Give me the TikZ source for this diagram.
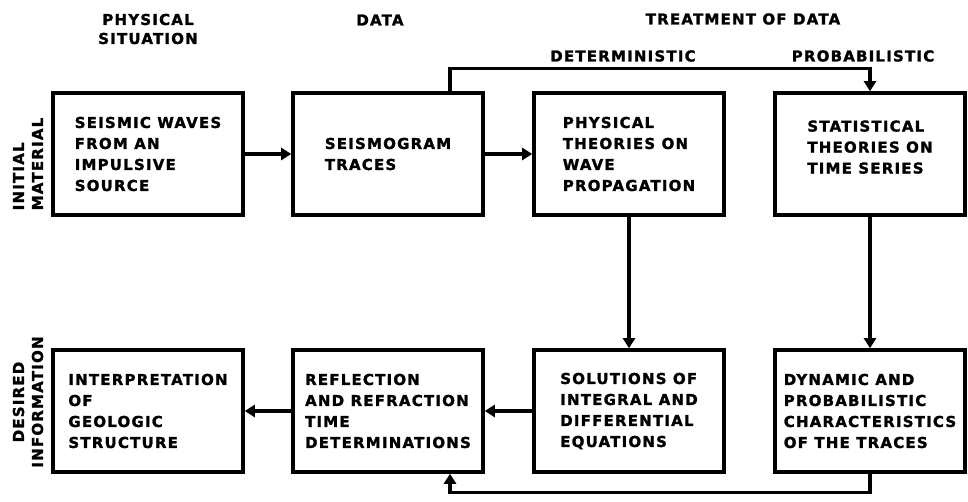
\documentclass[tikz,border=0pt]{standalone}
\usepackage{fontspec}
\newfontfamily\lbl{DejaVu Sans}[LetterSpace=8,BoldFeatures={FakeBold=1.5}]
\usetikzlibrary{arrows.meta}

\begin{document}
\begin{tikzpicture}[x=1pt,y=1pt,
  box/.style={draw,line width=3.6pt,minimum width=190pt,minimum height=122pt,
    inner sep=0pt,align=left,font=\lbl\bfseries\fontsize{15}{21}\selectfont},
  head/.style={inner sep=0pt,align=center,font=\lbl\bfseries\fontsize{15}{19}\selectfont},
  arr/.style={line width=3.2pt,-{Triangle[length=10pt,width=12pt]}}]
\useasboundingbox (0,0) rectangle (968,501);
% column and row headings
\node[head] (hphys) at (148,472) {PHYSICAL\\SITUATION};
\node[head] (hdata) at (380,481) {DATA};
\node[head] (htreat) at (743,482) {TREATMENT OF DATA};
\node[head] (hdet) at (623,445) {DETERMINISTIC};
\node[head] (hprob) at (863,445) {PROBABILISTIC};
\node[head,rotate=90,align=left] (hinit) at (28,337) {INITIAL\\MATERIAL};
\node[head,rotate=90] (hdes) at (28,99) {DESIRED\\INFORMATION};
% boxes
\node[box] (waves) at (148,347) {SEISMIC WAVES\\FROM AN\\IMPULSIVE\\SOURCE};
\node[box] (traces) at (388,347) {SEISMOGRAM\\TRACES};
\node[box] (physth) at (629,347) {PHYSICAL\\THEORIES ON\\WAVE\\PROPAGATION};
\node[box] (statth) at (870,347) {STATISTICAL\\THEORIES ON\\TIME SERIES\\[-7pt]};
\node[box] (interp) at (148,90) {INTERPRETATION\\OF\\GEOLOGIC\\STRUCTURE};
\node[box] (reflect) at (388,90) {REFLECTION\\AND REFRACTION\\TIME\\DETERMINATIONS};
\node[box] (solutions) at (629,90) {SOLUTIONS OF\\INTEGRAL AND\\DIFFERENTIAL\\EQUATIONS};
\node[box] (dynamic) at (870,90) {DYNAMIC AND\\PROBABILISTIC\\CHARACTERISTICS\\OF THE TRACES};
% connectors
\draw[arr] (waves) -- (traces);
\draw[arr] (traces) -- (physth);
\draw[arr] ([xshift=62pt]traces.north) |- ([yshift=23pt]statth.north) -- (statth.north);
\draw[arr] (physth) -- (solutions);
\draw[arr] (statth) -- (dynamic);
\draw[arr] (solutions) -- (reflect);
\draw[arr] (reflect) -- (interp);
\draw[arr] (dynamic.south) |- ([xshift=62pt,yshift=-19pt]reflect.south) -- ([xshift=62pt]reflect.south);
\end{tikzpicture}
\end{document}
